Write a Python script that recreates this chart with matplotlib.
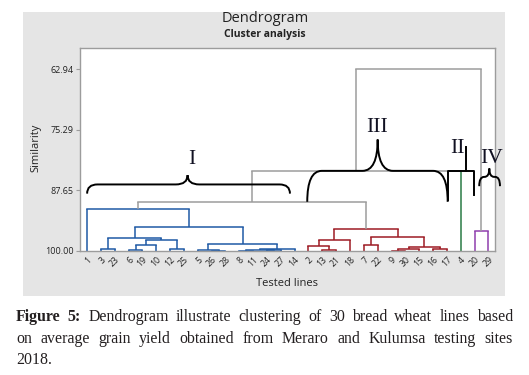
import matplotlib.pyplot as plt
from matplotlib.path import Path
from matplotlib.patches import PathPatch, Rectangle

W, H = 529, 375

# ---- data ----
leaf_order = [1, 3, 23, 6, 19, 10, 12, 25, 5, 26, 28, 8, 11, 24, 27, 14,
              2, 13, 21, 18, 7, 22, 9, 30, 15, 16, 17, 4, 20, 29]

# (node, left child, right child, similarity at merge, colour group)
merges = [
    ("A", 3, 23, 99.65, "I"),
    ("B", 6, 19, 99.86, "I"),
    ("C", "B", 10, 98.84, "I"),
    ("D", 12, 25, 99.65, "I"),
    ("E", "C", "D", 97.83, "I"),
    ("F", "A", "E", 97.41, "I"),
    ("G", 26, 28, 99.93, "I"),
    ("H", 5, "G", 99.80, "I"),
    ("J", 8, 11, 99.90, "I"),
    ("K", 24, 27, 99.88, "I"),
    ("L", "J", "K", 99.80, "I"),
    ("M", "L", 14, 99.65, "I"),
    ("N", "H", "M", 98.64, "I"),
    ("O", "F", "N", 95.06, "I"),
    ("P", 1, "O", 91.52, "I"),
    ("Q", 13, 21, 99.73, "III"),
    ("R", 2, "Q", 99.04, "III"),
    ("S", "R", 18, 97.83, "III"),
    ("T", 7, 22, 98.84, "III"),
    ("U", 9, 30, 99.94, "III"),
    ("V", "U", 15, 99.53, "III"),
    ("X", 16, 17, 99.65, "III"),
    ("Y", "V", "X", 99.25, "III"),
    ("Z", "T", "Y", 97.21, "III"),
    ("Z2", "S", "Z", 95.59, "III"),
    ("AA", "P", "Z2", 89.98, "top"),
    ("BB", "AA", 4, 83.67, "top"),
    ("CC", 20, 29, 95.87, "IV"),
    ("DD", "BB", "CC", 62.94, "top"),
]
singleton_groups = {4: "II"}

yticks = [62.94, 75.29, 87.65, 100.00]

group_colors = {"I": "#1f5aa5", "II": "#2a7a45", "III": "#9e1b24",
                "IV": "#8f3fae", "top": "#9c9c9c"}

title = "Dendrogram"
subtitle = "Cluster analysis"
xlabel = "Tested lines"
ylabel = "Similarity"

caption_lines = [
    "Dendrogram illustrate clustering of 30 bread wheat lines based",
    "on average grain yield obtained from Meraro and Kulumsa testing sites",
    "2018.",
]

plt.rcParams['font.family'] = ['Open Sans', 'DejaVu Sans']

fig = plt.figure(figsize=(W / 100, H / 100), dpi=100)

# grey Minitab panel
fig.add_artist(Rectangle((23 / W, 1 - 296 / H), (505 - 23) / W, (296 - 12) / H,
                         transform=fig.transFigure, facecolor='#e5e5e5',
                         edgecolor='none', zorder=0))

ax = fig.add_axes([79.5 / W, 1 - 251 / H, (495 - 79.5) / W, (251 - 48.3) / H])
ax.set_facecolor('white')
ax.set_xlim(0.45, 30.48)
ax.set_ylim(100, 58.7)

# ---- dendrogram ----
pos = {leaf: i + 1 for i, leaf in enumerate(leaf_order)}
height = {leaf: 100.0 for leaf in leaf_order}
lw = 1.1
for node, left, right, sim, grp in merges:
    col = group_colors[grp]
    xl, xr = pos[left], pos[right]
    cl = group_colors[singleton_groups[left]] if left in singleton_groups else col
    cr = group_colors[singleton_groups[right]] if right in singleton_groups else col
    ax.plot([xl, xl], [height[left], sim], color=cl, lw=lw, solid_capstyle='butt')
    ax.plot([xr, xr], [height[right], sim], color=cr, lw=lw, solid_capstyle='butt')
    ax.plot([xl, xr], [sim, sim], color=col, lw=lw, solid_capstyle='projecting')
    pos[node] = (xl + xr) / 2
    height[node] = sim

ax.set_xticks(range(1, len(leaf_order) + 1))
ax.set_xticklabels([str(v) for v in leaf_order], rotation=45, ha='right',
                   va='top', rotation_mode='anchor', fontsize=6.3, color='#222222')
ax.tick_params(axis='x', length=0, pad=3)
ax.set_yticks(yticks)
ax.set_yticklabels([f"{v:.2f}" for v in yticks], fontsize=6.5, color='#222222')
ax.tick_params(axis='y', length=3, width=0.8, color='#9c9c9c', pad=1)
for s in ax.spines.values():
    s.set_color('#9c9c9c')
    s.set_linewidth(1)

# ---- hand-drawn group braces ----
def brace(x0, x1, xc, y_end, y_body, y_tip, r, c):
    verts = [(x0, y_end), (x0, y_body), (x0 + r, y_body),
             (xc - c, y_body), (xc, y_body), (xc, y_tip),
             (xc, y_body), (xc + c, y_body),
             (x1 - r, y_body), (x1, y_body), (x1, y_end)]
    codes = [Path.MOVETO, Path.CURVE3, Path.CURVE3,
             Path.LINETO, Path.CURVE3, Path.CURVE3,
             Path.CURVE3, Path.CURVE3,
             Path.LINETO, Path.CURVE3, Path.CURVE3]
    ax.add_patch(PathPatch(Path(verts, codes), fill=False, edgecolor='black',
                           lw=1.4, clip_on=False, zorder=5))

brace(1.0, 15.66, 8.26, 88.31, 86.44, 84.55, 0.75, 0.85)
brace(16.91, 27.06, 22.0, 89.98, 83.67, 77.29, 1.05, 1.1)
brace(29.34, 30.84, 30.07, 86.79, 84.9, 83.19, 0.35, 0.35)
# bracket for II
ax.plot([27.06, 27.06, 28.98, 28.98], [89.63, 83.73, 83.73, 88.62],
        color='black', lw=1.4, clip_on=False, zorder=5)
ax.plot([28.38, 28.38], [83.73, 78.86], color='black', lw=1.4,
        clip_on=False, zorder=5)

serif = ['Liberation Serif', 'DejaVu Serif']
for lab, x, y in [("I", 8.55, 82.31), ("III", 21.95, 75.75),
                  ("II", 27.77, 80.02), ("IV", 30.26, 82.17)]:
    ax.text(x, y, lab, family=serif, fontsize=15.5, ha='center', va='baseline',
            color='#111122', clip_on=False, zorder=6)

# ---- titles ----
fig.text(265 / W, 1 - 22 / H, title, ha='center', va='baseline', fontsize=10.5,
         color='#222222')
fig.text(265 / W, 1 - 36.5 / H, subtitle, ha='center', va='baseline', fontsize=7.5,
         fontweight='bold', color='#222222')
fig.text(36 / W, 1 - 148 / H, ylabel, rotation=90, ha='center', va='center',
         fontsize=8, color='#222222')
fig.text(287 / W, 1 - 283 / H, xlabel, ha='center', va='center', fontsize=8,
         color='#222222')

# ---- justified caption ----
renderer = fig.canvas.get_renderer()
cap_size = 11.4
x_left, x_right = 16, 513

def place_line(words, y_px, justify=True):
    texts = []
    for w, bold in words:
        t = fig.text(0, 1 - y_px / H, w, family=serif, fontsize=cap_size,
                     fontweight='bold' if bold else 'normal', va='baseline',
                     ha='left', color='#231f20')
        texts.append(t)
    widths = [t.get_window_extent(renderer).width for t in texts]
    if justify and len(texts) > 1:
        gap = (x_right - x_left - sum(widths)) / (len(texts) - 1)
    else:
        gap = 4
    x = x_left
    for t, wd in zip(texts, widths):
        t.set_x(x / W)
        x += wd + gap

line1 = [("Figure", True), ("5:", True)] + [(w, False) for w in caption_lines[0].split()]
place_line(line1, 321)
place_line([(w, False) for w in caption_lines[1].split()], 343)
place_line([(w, False) for w in caption_lines[2].split()], 363.5, justify=False)

fig.savefig('out.png', dpi=100)
